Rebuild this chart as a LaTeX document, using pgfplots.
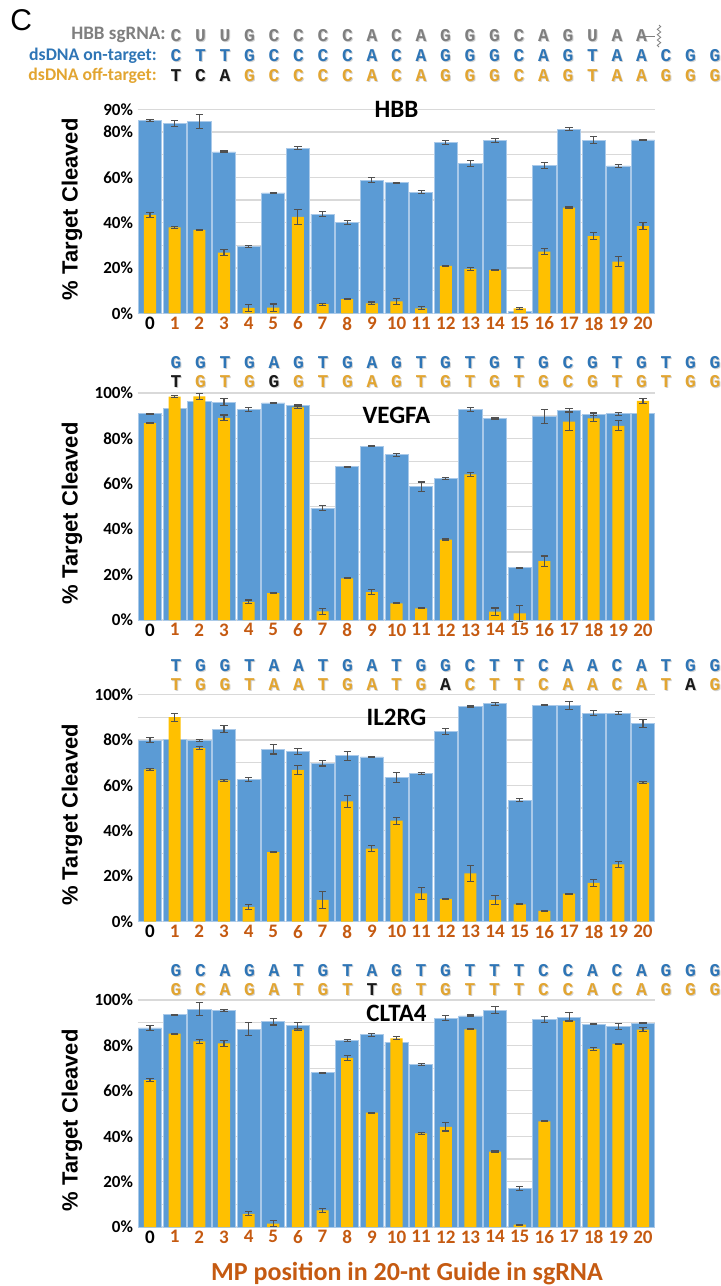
\documentclass[border=0pt]{standalone}
\usepackage{pgfplots}
\pgfplotsset{compat=1.18}
\usepackage{pgfplotstable}
\usepackage{fontspec}
\setmainfont{Carlito}
\newfontfamily\arialfont{Liberation Sans}
\newfontfamily\seqfontfam{Liberation Mono}
\usetikzlibrary{decorations.pathmorphing}

\definecolor{barblue}{HTML}{5B9BD5}
\definecolor{barblueedge}{HTML}{A9C9E9}
\definecolor{baryel}{HTML}{FFC000}
\definecolor{errc}{HTML}{505050}
\definecolor{gridc}{HTML}{D9D9D9}
\definecolor{tickc}{HTML}{C55A11}
\definecolor{sB}{HTML}{2E75B6}
\definecolor{sO}{HTML}{E2A531}
\definecolor{sK}{HTML}{1A1A1A}
\definecolor{sG}{HTML}{7F7F7F}

\pgfplotstableread{
x b be y ye
0 85.0 0.3 43.4 1.2
1 83.8 1.3 37.9 0.3
2 84.6 3.0 36.8 0.3
3 71.2 0.4 26.8 1.5
4 29.6 0.4 2.4 1.5
5 53.1 0.2 2.5 1.6
6 72.9 0.8 42.5 3.5
7 43.8 1.0 4.0 0.5
8 40.0 1.0 6.3 0.3
9 58.8 1.0 4.4 0.6
10 57.6 0.2 5.3 1.3
11 53.4 0.7 2.2 0.7
12 75.3 1.0 20.9 0.2
13 66.2 1.3 19.6 0.8
14 76.2 0.8 19.1 0.4
15 0.8 0.2 2.2 0.5
16 65.3 1.3 27.2 1.3
17 81.3 0.7 46.6 0.3
18 76.3 1.5 34.1 1.5
19 65.0 0.5 22.8 2.3
20 76.5 0.2 38.5 1.5
}\hbb

\pgfplotstableread{
x b be y ye
0 90.8 0.3 86.7 0.3
1 93.3 0.3 98.4 0.4
2 96.1 0.3 98.5 1.3
3 95.9 1.5 89.0 1.3
4 92.8 1.0 8.0 0.8
5 95.6 0.2 11.8 0.2
6 94.6 0.4 93.7 0.7
7 49.3 1.0 3.8 1.2
8 67.5 0.2 18.3 0.2
9 76.6 0.2 12.3 1.1
10 72.8 0.7 7.3 0.2
11 58.8 2.0 5.1 0.2
12 62.4 0.3 35.4 0.3
13 92.7 0.9 64.2 0.9
14 88.7 0.3 3.7 1.6
15 23.0 0.2 2.9 3.5
16 89.6 3.0 25.9 2.3
17 92.4 0.7 87.4 4.0
18 90.6 0.6 88.8 1.3
19 90.9 0.7 85.5 2.2
20 90.8 0.3 96.5 1.0
}\vegfa

\pgfplotstableread{
x b be y ye
0 79.9 1.2 67.0 0.5
1 80.4 0.3 90.0 1.7
2 79.8 0.5 76.4 0.5
3 84.8 1.5 62.2 0.5
4 62.5 1.0 6.4 1.2
5 75.8 2.0 30.6 0.3
6 75.0 1.3 66.8 2.0
7 69.8 1.3 9.5 3.8
8 73.1 2.0 52.9 2.5
9 72.5 0.2 32.1 1.2
10 63.5 2.2 44.4 1.5
11 65.2 0.3 12.4 2.5
12 83.7 1.5 10.0 0.3
13 94.9 0.4 21.2 3.6
14 95.9 0.6 9.5 2.0
15 53.4 0.6 7.6 0.2
16 95.3 0.3 4.7 0.2
17 95.3 1.7 12.3 0.2
18 91.8 1.0 17.0 1.7
19 91.8 0.7 25.2 1.3
20 87.3 1.7 61.2 0.6
}\ilrg

\pgfplotstableread{
x b be y ye
0 87.7 1.0 64.7 0.8
1 93.5 0.2 85.2 0.2
2 96.0 2.7 81.8 0.8
3 95.4 0.3 80.9 1.3
4 87.1 2.8 5.8 0.9
5 90.4 1.4 1.5 1.2
6 88.7 1.5 87.0 0.3
7 67.9 0.2 7.3 1.0
8 82.2 0.4 74.5 1.2
9 84.7 0.6 50.4 0.2
10 81.5 0.3 83.1 0.7
11 71.6 0.3 41.3 0.5
12 92.0 1.2 44.1 1.8
13 93.0 0.4 87.1 0.2
14 95.6 1.6 33.2 0.3
15 17.0 1.0 1.0 0.2
16 91.4 1.3 46.5 0.2
17 92.4 2.3 90.8 0.3
18 89.3 0.2 78.5 0.7
19 88.4 1.2 80.7 0.2
20 89.8 0.3 87.0 0.8
}\clta

\pgfplotsset{
  panel/.style={
    scale only axis, width=388.2pt,
    xmin=-0.5, xmax=20.5, ymin=0,
    axis line style={draw=none}, tick style={draw=none},
    ymajorgrids, yminorgrids,
    major grid style={line width=0.9pt, color=gridc},
    minor grid style={line width=0.9pt, color=gridc},
    xtick={0,...,20},
    xticklabels={{\color{black}0},1,2,3,4,5,6,7,8,9,10,11,12,13,14,15,16,17,18,19,20},
    x tick label style={text=tickc, font=\bfseries\fontsize{14.3}{16}\selectfont, inner sep=2.5pt},
    y tick label style={font=\bfseries\fontsize{12.75}{14}\selectfont},
    clip=false,
    ylabel={\% Target Cleaved},
    ylabel style={font=\arialfont\bfseries\fontsize{16.5}{18}\selectfont, at={(axis description cs:-0.127,0.47)}, anchor=center},
  },
  full/.style={ymax=100, height=170.25pt,
    ytick={0,20,40,60,80,100}, yticklabels={0\%,20\%,40\%,60\%,80\%,100\%},
    minor ytick={10,30,50,70,90}},
  bluebar/.style={ybar, bar width=0.94, bar shift=0pt, fill=barblue, draw=barblueedge, line width=0.6pt,
    error bars/.cd, y dir=both, y explicit, error mark=-,
    error bar style={errc, line width=0.8pt},
    error mark options={rotate=90, errc, mark size=2.7pt, line width=0.8pt}},
  yelbar/.style={ybar, bar width=0.49, bar shift=0pt, fill=baryel, draw=none,
    error bars/.cd, y dir=both, y explicit, error mark=-,
    error bar style={errc, line width=0.8pt},
    error mark options={rotate=90, errc, mark size=2.7pt, line width=0.8pt}},
}
\tikzset{ttl/.style={font=\bfseries\fontsize{18.75}{20}\selectfont, anchor=center}}

\newcommand\seqfont{\seqfontfam\bfseries\fontsize{13.5}{15}\selectfont}
\newcommand\seqrow[2]{%
  \foreach \l/\c [count=\i] in {#2} {
    \node[anchor=base, font=\seqfont, text=gray!35, inner sep=0pt] at ({176+(\i-1)*24.5+1}, #1+1) {\l};
    \node[anchor=base, font=\seqfont, text=\c, inner sep=0pt] at ({176+(\i-1)*24.5}, #1) {\l};
  }}
\newcommand\rowlabel[4]{\node[anchor=base east, font=\bfseries\fontsize{#4}{15}\selectfont, text=#2, inner sep=0pt] at (#3,#1) {#3};}
\newcommand\rowlab[5]{\node[anchor=base east, font=\bfseries\fontsize{#4}{16}\selectfont, text=#2, inner sep=0pt] at (#3,#1) {#5};}

\begin{document}
\begin{tikzpicture}
\path[use as bounding box] (0,0) rectangle (540.75pt,-964.5pt);

% HBB
\begin{axis}[panel, at={(103.275pt,-234.975pt)}, ymax=90, height=153pt,
  ytick={0,20,40,60,80,90}, yticklabels={0\%,20\%,40\%,60\%,80\%,90\%},
  minor ytick={10,30,50,70}, ylabel style={at={(axis description cs:-0.127,0.51)}}]
\addplot[bluebar] table[x=x, y=b, y error=be]{\hbb};
\addplot[yelbar] table[x=x, y=y, y error=ye]{\hbb};
\node[ttl] at (axis cs:10,90) {HBB};
\end{axis}

% VEGFA
\begin{axis}[panel, full, at={(103.275pt,-465pt)}]
\addplot[bluebar] table[x=x, y=b, y error=be]{\vegfa};
\addplot[yelbar] table[x=x, y=y, y error=ye]{\vegfa};
\node[ttl] at (axis cs:10,90.3) {VEGFA};
\end{axis}

% IL2RG
\begin{axis}[panel, full, at={(103.275pt,-691.125pt)}]
\addplot[bluebar] table[x=x, y=b, y error=be]{\ilrg};
\addplot[yelbar] table[x=x, y=y, y error=ye]{\ilrg};
\node[ttl] at (axis cs:10,90) {IL2RG};
\end{axis}

% CLTA4
\begin{axis}[panel, full, at={(103.275pt,-920.25pt)}]
\addplot[bluebar] table[x=x, y=b, y error=be]{\clta};
\addplot[yelbar] table[x=x, y=y, y error=ye]{\clta};
\node[ttl] at (axis cs:10,93.9) {CLTA4};
\end{axis}

\begin{scope}[x=0.75pt, y=-0.75pt]
\node[anchor=base west, font=\arialfont\fontsize{22.5}{24}\selectfont, inner sep=0pt] at (10,30) {C};
\rowlab{39.5}{sG}{166}{14.3}{HBB sgRNA:}
\rowlab{60}{sB}{157}{13.3}{dsDNA on-target:}
\rowlab{80.5}{sO}{157}{13.3}{dsDNA off-target:}
\seqrow{41}{C/sG,U/sG,U/sG,G/sG,C/sG,C/sG,C/sG,C/sG,A/sG,C/sG,A/sG,G/sG,G/sG,G/sG,C/sG,A/sG,G/sG,U/sG,A/sG,A/sG}
\draw[sG, line width=0.9pt] (645,36.5) -- (655,36.5);
\draw[sG, line width=0.6pt, decorate, decoration={snake, amplitude=1.3pt, segment length=4pt}] (659,25) -- (659,47);
\seqrow{61}{C/sB,T/sB,T/sB,G/sB,C/sB,C/sB,C/sB,C/sB,A/sB,C/sB,A/sB,G/sB,G/sB,G/sB,C/sB,A/sB,G/sB,T/sB,A/sB,A/sB,C/sB,G/sB,G/sB}
\seqrow{81}{T/sK,C/sK,A/sK,G/sO,C/sO,C/sO,C/sO,C/sO,A/sO,C/sO,A/sO,G/sO,G/sO,G/sO,C/sO,A/sO,G/sO,T/sO,A/sO,A/sO,G/sO,G/sO,G/sO}
% VEGFA
\seqrow{368}{G/sB,G/sB,T/sB,G/sB,A/sB,G/sB,T/sB,G/sB,A/sB,G/sB,T/sB,G/sB,T/sB,G/sB,T/sB,G/sB,C/sB,G/sB,T/sB,G/sB,T/sB,G/sB,G/sB}
\seqrow{387}{T/sK,G/sO,T/sO,G/sO,G/sK,G/sO,T/sO,G/sO,A/sO,G/sO,T/sO,G/sO,T/sO,G/sO,T/sO,G/sO,C/sO,G/sO,T/sO,G/sO,T/sO,G/sO,G/sO}
% IL2RG
\seqrow{671.5}{T/sB,G/sB,G/sB,T/sB,A/sB,A/sB,T/sB,G/sB,A/sB,T/sB,G/sB,G/sB,C/sB,T/sB,T/sB,C/sB,A/sB,A/sB,C/sB,A/sB,T/sB,G/sB,G/sB}
\seqrow{690}{T/sO,G/sO,G/sO,T/sO,A/sO,A/sO,T/sO,G/sO,A/sO,T/sO,G/sO,A/sK,C/sO,T/sO,T/sO,C/sO,A/sO,A/sO,C/sO,A/sO,T/sO,A/sK,G/sO}
% CLTA4
\seqrow{976}{G/sB,C/sB,A/sB,G/sB,A/sB,T/sB,G/sB,T/sB,A/sB,G/sB,T/sB,G/sB,T/sB,T/sB,T/sB,C/sB,C/sB,A/sB,C/sB,A/sB,G/sB,G/sB,G/sB}
\seqrow{995.5}{G/sO,C/sO,A/sO,G/sO,A/sO,T/sO,G/sO,T/sO,T/sK,G/sO,T/sO,G/sO,T/sO,T/sO,T/sO,C/sO,C/sO,A/sO,C/sO,A/sO,G/sO,G/sO,G/sO}
\node[anchor=base, font=\bfseries\fontsize{19.5}{22}\selectfont, text=tickc, inner sep=0pt] at (407,1280) {MP position in 20-nt Guide in sgRNA};
\end{scope}
\end{tikzpicture}
\end{document}
